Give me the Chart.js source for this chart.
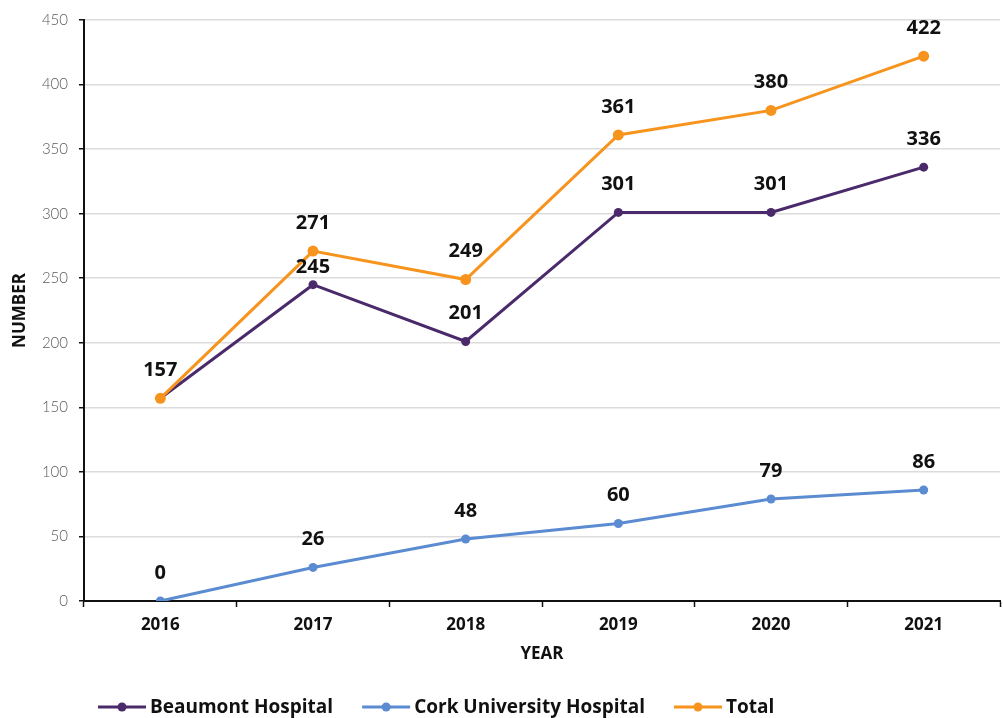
<!DOCTYPE html>
<html>
<head>
<meta charset="utf-8">
<title>Beaumont / Cork / Total</title>
<script src="https://cdn.jsdelivr.net/npm/chart.js@4.4.0/dist/chart.umd.min.js"></script>
<style>
  html, body { margin: 0; padding: 0; background: #fff; }
  #wrap { width: 1003px; height: 718px; }
</style>
</head>
<body>
<div id="wrap"><canvas id="chart" width="1003" height="718"></canvas></div>
<script>
// ---- Data ----
const years    = ['2016', '2017', '2018', '2019', '2020', '2021'];
const beaumont = [157, 245, 201, 301, 301, 336];
const cork     = [0, 26, 48, 60, 79, 86];
const total    = [157, 271, 249, 361, 380, 422];
const yTicks   = { min: 0, max: 450, step: 50 };

const PURPLE = '#4b2a6b';
const BLUE   = '#5b8bd0';
const ORANGE = '#f7941d';

const BOLD = '"Open Sans", "DejaVu Sans", sans-serif';

// ---- Value labels above points ----
const valueLabels = {
    id: 'valueLabels',
    afterDatasetsDraw(chart) {
        const ctx = chart.ctx;
        const drawn = [];
        ctx.save();
        ctx.font = `700 20px ${BOLD}`;
        ctx.fillStyle = '#111';
        ctx.textAlign = 'center';
        ctx.textBaseline = 'middle';
        chart.data.datasets.forEach((ds, di) => {
            const meta = chart.getDatasetMeta(di);
            meta.data.forEach((pt, i) => {
                const key = Math.round(pt.x) + ':' + Math.round(pt.y);
                if (drawn.includes(key)) return;
                drawn.push(key);
                const shift = (ds.labelShift && ds.labelShift[i]) || 0;
                ctx.fillText(ds.data[i], pt.x, pt.y - 28 + shift);
            });
        });
        ctx.restore();
    }
};

// ---- Legend: line + dot, bold text ----
const lineLegend = {
    id: 'lineLegend',
    afterDraw(chart) {
        const ctx = chart.ctx;
        const lineW = 48, textGap = 4, itemGap = 29;
        let x = 98;
        const y = 707;
        ctx.save();
        ctx.font = `700 19px ${BOLD}`;
        chart.data.datasets.forEach(ds => {
            ctx.strokeStyle = ds.borderColor;
            ctx.lineWidth = 3;
            ctx.beginPath();
            ctx.moveTo(x, y);
            ctx.lineTo(x + lineW, y);
            ctx.stroke();
            ctx.fillStyle = ds.borderColor;
            ctx.beginPath();
            ctx.arc(x + lineW / 2, y, 4.5, 0, Math.PI * 2);
            ctx.fill();
            ctx.fillStyle = '#111';
            ctx.textAlign = 'left';
            ctx.textBaseline = 'middle';
            ctx.fillText(ds.label, x + lineW + textGap, y + 1);
            x += lineW + textGap + ctx.measureText(ds.label).width + itemGap;
        });
        ctx.restore();
    }
};

new Chart(document.getElementById('chart').getContext('2d'), {
    type: 'line',
    data: {
        labels: years,
        datasets: [
            {
                label: 'Beaumont Hospital',
                data: beaumont,
                borderColor: PURPLE,
                backgroundColor: PURPLE,
                borderWidth: 3,
                pointRadius: 4.5,
                pointBorderWidth: 0,
                tension: 0,
                order: 1,
                labelShift: [0, 11, 0, 0, 0, 0]
            },
            {
                label: 'Cork University Hospital',
                data: cork,
                borderColor: BLUE,
                backgroundColor: BLUE,
                borderWidth: 3,
                pointRadius: 4.5,
                pointBorderWidth: 0,
                tension: 0,
                order: 2
            },
            {
                label: 'Total',
                data: total,
                borderColor: ORANGE,
                backgroundColor: ORANGE,
                borderWidth: 3,
                pointRadius: 5.5,
                pointBorderWidth: 0,
                tension: 0,
                order: 0
            }
        ]
    },
    options: {
        responsive: false,
        animation: false,
        layout: { autoPadding: false, padding: { left: 0, right: 3, top: 18, bottom: 47 } },
        plugins: {
            legend: { display: false },
            tooltip: { enabled: false }
        },
        scales: {
            x: {
                offset: true,
                afterFit: s => { s.height = 70; },
                border: { display: true, color: '#111', width: 2 },
                grid: { display: true, drawOnChartArea: false, offset: true, tickLength: 6, tickColor: '#111', tickWidth: 1.5 },
                ticks: { color: '#111', padding: 8, font: { family: BOLD, size: 17, weight: '700' } },
                title: { display: true, text: 'YEAR', color: '#111', padding: { top: 4, bottom: 7 }, font: { family: BOLD, size: 17, weight: '700' } }
            },
            y: {
                min: yTicks.min,
                max: yTicks.max,
                afterFit: s => { s.width = 84; },
                border: { display: true, color: '#111', width: 2 },
                grid: { color: '#dcdcdc', lineWidth: 1.5, tickLength: 5, tickColor: '#111', tickWidth: 1.5 },
                ticks: { stepSize: yTicks.step, color: '#5a5a5a', padding: 11, font: { family: 'Lato, sans-serif', size: 15, weight: '300' } },
                title: { display: true, text: 'NUMBER', color: '#111', padding: { top: 10, bottom: 0 }, font: { family: BOLD, size: 17, weight: '700' } }
            }
        }
    },
    plugins: [valueLabels, lineLegend]
});
</script>
</body>
</html>
